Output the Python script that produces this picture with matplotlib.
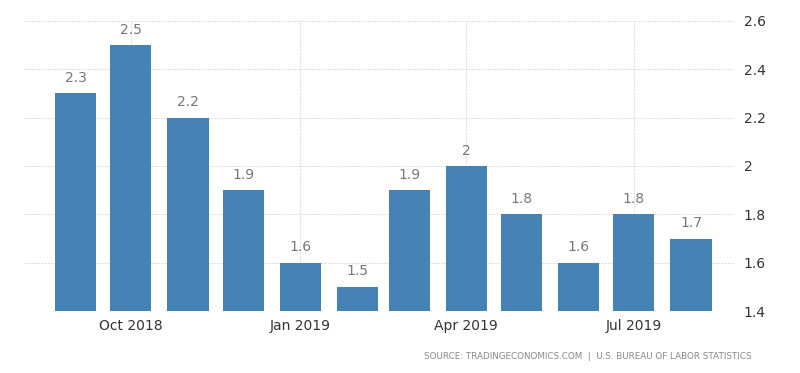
import matplotlib.pyplot as plt
import pandas as pd

# data
months = pd.date_range("2018-09-01", "2019-08-01", freq="MS")
values = [2.3, 2.5, 2.2, 1.9, 1.6, 1.5, 1.9, 2.0, 1.8, 1.6, 1.8, 1.7]
tick_dates = pd.to_datetime(["2018-10-01", "2019-01-01", "2019-04-01", "2019-07-01"])
tick_labels = ["Oct 2018", "Jan 2019", "Apr 2019", "Jul 2019"]
y_ticks = [1.4, 1.6, 1.8, 2.0, 2.2, 2.4, 2.6]
y_labels = ["1.4", "1.6", "1.8", "2", "2.2", "2.4", "2.6"]
source = "SOURCE: TRADINGECONOMICS.COM  |  U.S. BUREAU OF LABOR STATISTICS"

fig = plt.figure(figsize=(8, 3.73), dpi=100)
ax = fig.add_axes([0.03, 0.166, 0.889, 0.778])

ax.bar(months, values, width=22.3, color="#4682b4", zorder=2)

# value labels above bars
for d, v in zip(months, values):
    ax.text(d, v + 0.035, format(v, "g"), ha="center", va="bottom",
            fontsize=10, color="#777777")

ax.set_ylim(1.4, 2.6)
ax.set_xlim(pd.Timestamp("2018-08-04"), pd.Timestamp("2019-08-25"))
ax.set_yticks(y_ticks)
ax.set_yticklabels(y_labels)
ax.yaxis.tick_right()
ax.set_xticks(tick_dates)
ax.set_xticklabels(tick_labels)
ax.tick_params(axis="both", length=0, labelsize=10, colors="#333333")
ax.tick_params(axis="y", pad=6)
ax.tick_params(axis="x", pad=6)

ax.grid(True, color="#e0e0e0", linestyle=(0, (2, 1)), linewidth=0.8, zorder=0)
for s in ax.spines.values():
    s.set_visible(False)

fig.text(0.94, 0.045, source, ha="right", va="center", fontsize=6.3,
         color="#888888")

fig.savefig("out.png", dpi=100)
